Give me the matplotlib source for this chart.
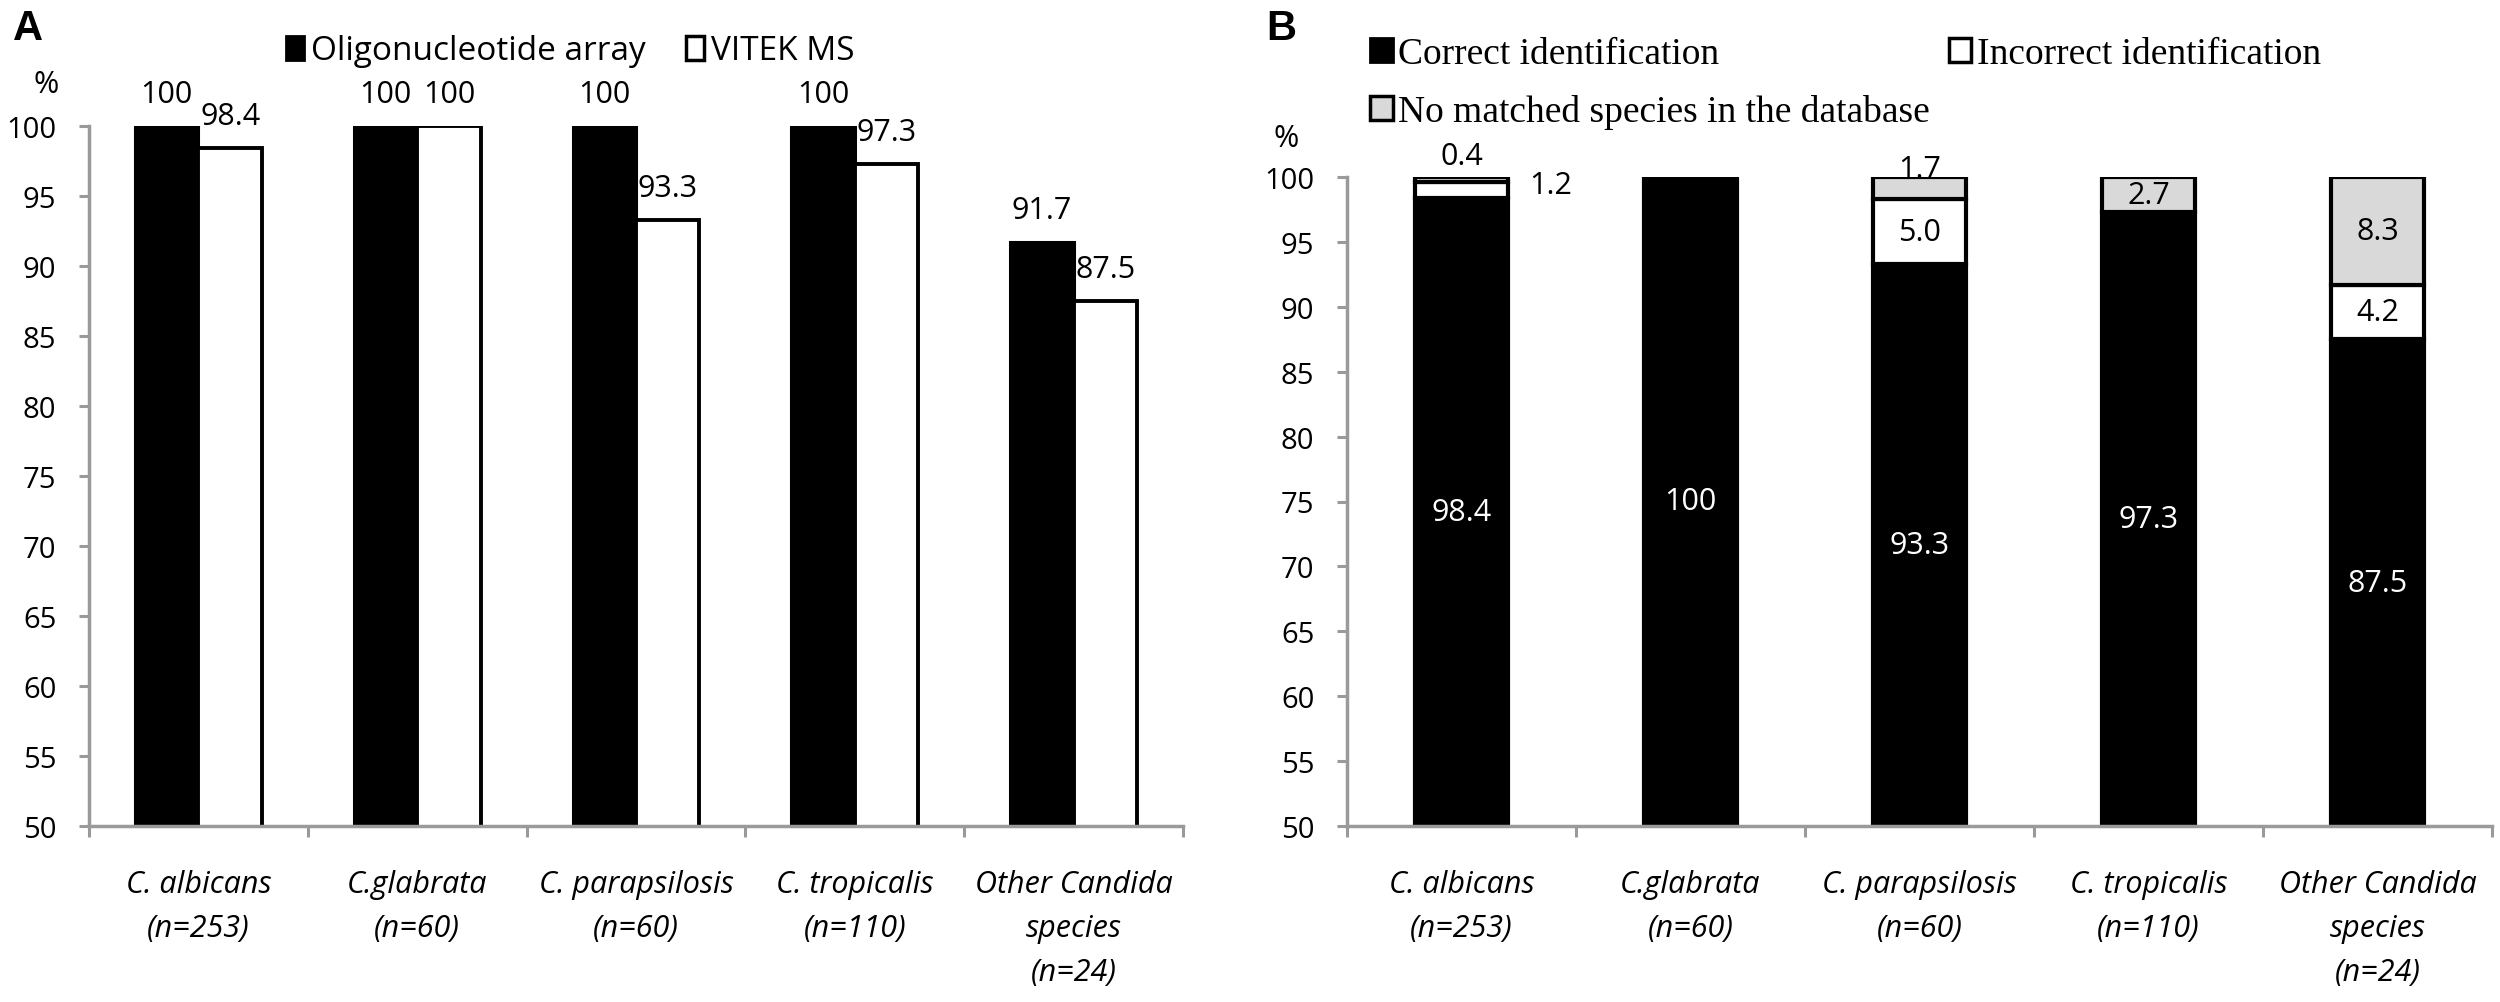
import matplotlib
matplotlib.use("Agg")
import matplotlib.pyplot as plt
from matplotlib.patches import Patch
import numpy as np

# ---------------- data ----------------
categories = ["C. albicans\n(n=253)", "C.glabrata\n(n=60)", "C. parapsilosis\n(n=60)",
              "C. tropicalis\n(n=110)", "Other Candida\nspecies\n(n=24)"]
oligo = [100, 100, 100, 100, 91.7]          # Panel A: Oligonucleotide array
vitek = [98.4, 100, 93.3, 97.3, 87.5]       # Panel A: VITEK MS
correct = [98.4, 100, 93.3, 97.3, 87.5]     # Panel B: correct identification
incorrect = [1.2, 0, 5.0, 0, 4.2]           # Panel B: incorrect identification
nomatch = [0.4, 0, 1.7, 2.7, 8.3]           # Panel B: no matched species
yticks = list(range(50, 101, 5))

SANS = ["Open Sans", "DejaVu Sans"]
SERIF = ["Liberation Serif", "DejaVu Serif"]
AXC = "#9a9a9a"
GRAY = "#d9d9d9"
W, H = 2500, 1003
FS = 22

def fmt(v):
    return "100" if v == 100 else f"{v:.1f}"

fig = plt.figure(figsize=(W / 100, H / 100), dpi=100)

def axes_px(x0, x1, ytop, ybot):
    return fig.add_axes([x0 / W, 1 - ybot / H, (x1 - x0) / W, (ybot - ytop) / H])

def style_axes(ax):
    ax.set_ylim(50, 100)
    ax.set_xlim(-0.5, len(categories) - 0.5)
    for s in ("top", "right"):
        ax.spines[s].set_visible(False)
    for s in ("left", "bottom"):
        ax.spines[s].set_color(AXC)
        ax.spines[s].set_linewidth(2.5)
        ax.spines[s].set_zorder(5)
    ax.set_yticks(yticks)
    ax.set_yticklabels([str(t) for t in yticks], fontfamily=SANS, fontsize=21)
    ax.tick_params(axis="y", direction="out", length=7.5, width=2.2, color=AXC, pad=16)
    x = np.arange(len(categories))
    ax.set_xticks(np.arange(-0.5, len(categories), 1.0))
    ax.set_xticklabels([])
    ax.tick_params(axis="x", which="major", direction="out", length=8, width=2.2, color=AXC)
    ax.set_xticks(x, minor=True)
    ax.set_xticklabels(categories, minor=True, fontfamily=SANS, fontsize=FS,
                       fontstyle="italic", linespacing=1.6)
    ax.tick_params(axis="x", which="minor", length=0, pad=31)

# ---------------- Panel A ----------------
axA = axes_px(89, 1183, 127, 827)
style_axes(axA)
x = np.arange(len(categories))
bw = 0.29
bA1 = axA.bar(x - bw / 2, oligo, bw, color="black", edgecolor="black", linewidth=2.2, zorder=3)
bA2 = axA.bar(x + bw / 2, vitek, bw, color="white", edgecolor="black", linewidth=2.8, zorder=3)
for bars, vals in ((bA1, oligo), (bA2, vitek)):
    for b, v in zip(bars, vals):
        axA.annotate(fmt(v), (b.get_x() + b.get_width() / 2, v), xytext=(0, 23),
                     textcoords="offset points", ha="center", va="center",
                     fontfamily=SANS, fontsize=FS, annotation_clip=False)

legA = fig.legend(handles=[Patch(facecolor="black", edgecolor="black", linewidth=2),
                           Patch(facecolor="white", edgecolor="black", linewidth=2.5)],
                  labels=["Oligonucleotide array", "VITEK MS"], ncol=2,
                  loc="center left", bbox_to_anchor=(286 / W, 1 - 52 / H),
                  frameon=False, prop={"family": SANS, "size": 24},
                  handlelength=0.55, handleheight=0.75, handletextpad=0.2,
                  columnspacing=1.2, borderpad=0, borderaxespad=0)

fig.text(13 / W, 1 - 40 / H, "A", fontfamily=["Liberation Sans", "DejaVu Sans"],
         fontweight="bold", fontsize=30, va="baseline", ha="left")
fig.text(46 / W, 1 - 93 / H, "%", fontfamily=SANS, fontsize=22, va="baseline", ha="center")

# ---------------- Panel B ----------------
axB = axes_px(1347, 2492, 178, 827)
style_axes(axB)
wB = 0.41
lwB = 3.0
bot2 = [c + i for c, i in zip(correct, incorrect)]
bB1 = axB.bar(x, correct, wB, color="black", edgecolor="black", linewidth=lwB, zorder=3)
bB2 = axB.bar(x, incorrect, wB, bottom=correct, color="white", edgecolor="black",
              linewidth=lwB, zorder=3)
bB3 = axB.bar(x, nomatch, wB, bottom=bot2, color=GRAY, edgecolor="black",
              linewidth=lwB, zorder=3)

# label offsets (points) for labels moved outside small segments
offsets = {(0, "nomatch"): (0, 17), (0, "incorrect"): (64, 3.5), (2, "nomatch"): (0, 13.5)}
for i in range(len(categories)):
    axB.text(x[i], (50 + correct[i]) / 2, fmt(correct[i]), color="white", ha="center",
             va="center", fontfamily=SANS, fontsize=FS, zorder=6)
    for key, vals, bots in (("incorrect", incorrect, correct), ("nomatch", nomatch, bot2)):
        v = vals[i]
        if v <= 0:
            continue
        dx, dy = offsets.get((i, key), (0, 0))
        axB.annotate(fmt(v), (x[i], bots[i] + v / 2), xytext=(dx, dy),
                     textcoords="offset points", ha="center", va="center",
                     fontfamily=SANS, fontsize=FS, zorder=6, annotation_clip=False)

legB = fig.legend(handles=[Patch(facecolor="black", edgecolor="black", linewidth=2),
                           Patch(facecolor=GRAY, edgecolor="black", linewidth=2.5),
                           Patch(facecolor="white", edgecolor="black", linewidth=2.5)],
                  labels=["Correct identification", "No matched species in the database",
                          "Incorrect identification"], ncol=2,
                  loc="center left", bbox_to_anchor=(1370 / W, 1 - 84 / H),
                  frameon=False, prop={"family": SERIF, "size": 27},
                  handlelength=0.6, handleheight=0.6, handletextpad=0.15,
                  columnspacing=0.5, labelspacing=0.62, borderpad=0, borderaxespad=0)

fig.text(1266 / W, 1 - 40 / H, "B", fontfamily=["Liberation Sans", "DejaVu Sans"],
         fontweight="bold", fontsize=30, va="baseline", ha="left")
fig.text(1286 / W, 1 - 147 / H, "%", fontfamily=SANS, fontsize=22, va="baseline", ha="center")

fig.savefig("out.png", dpi=100)
